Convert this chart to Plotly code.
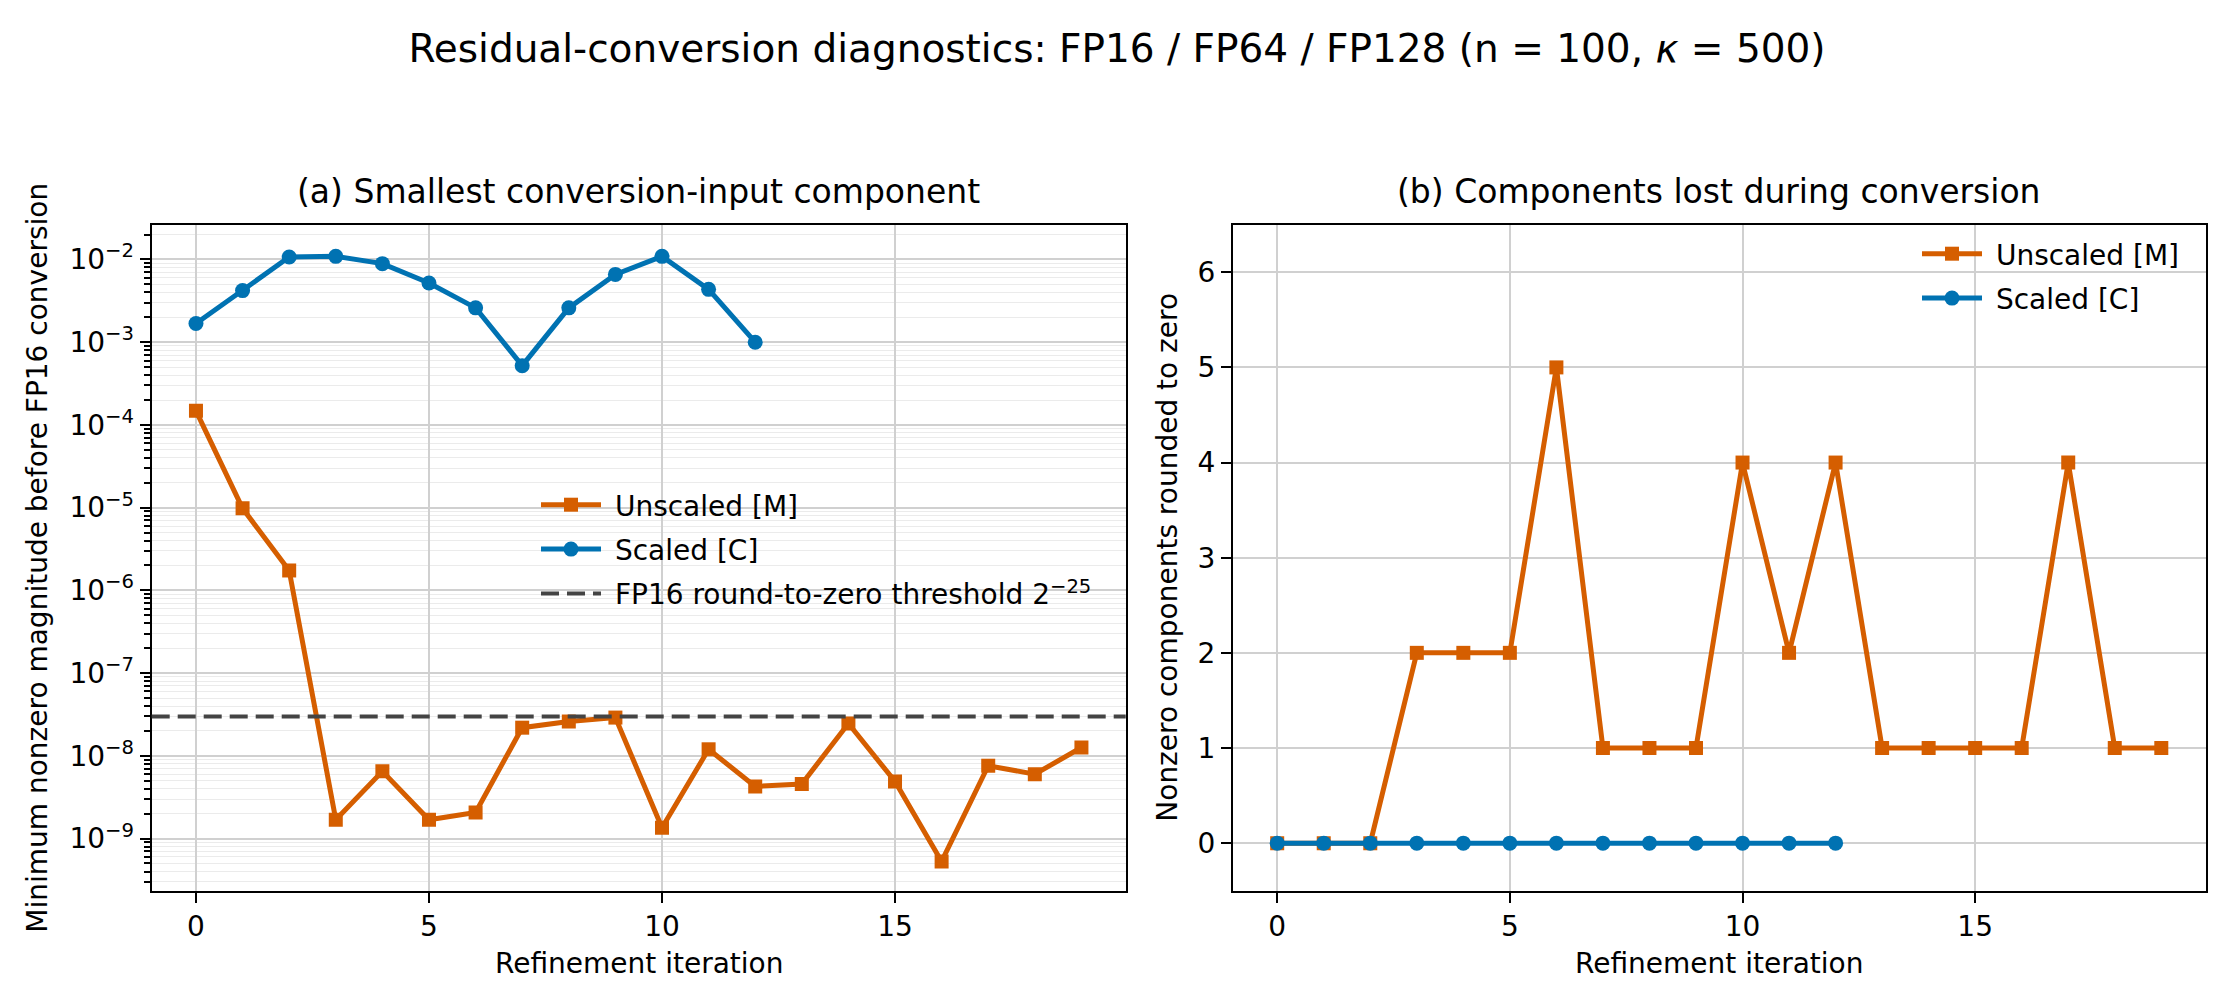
import plotly.graph_objects as go

# refinement iterations
iterations = list(range(20))
scaled_iterations = list(range(13))

# (a) smallest nonzero magnitude before FP16 conversion
unscaled_min = [1.48e-4, 9.8e-6, 1.74e-6, 1.69e-9, 6.5e-9, 1.69e-9, 2.07e-9, 2.19e-8, 2.6e-8, 2.9e-8,
                1.35e-9, 1.2e-8, 4.27e-9, 4.57e-9, 2.46e-8, 4.9e-9, 5.3e-10, 7.6e-9, 6.0e-9, 1.26e-8]
scaled_min = [1.68e-3, 4.2e-3, 1.07e-2, 1.09e-2, 8.9e-3, 5.2e-3, 2.6e-3, 5.2e-4, 2.6e-3, 6.6e-3,
              1.09e-2, 4.35e-3, 1.0e-3]
fp16_threshold = 2.0 ** -25

# (b) components rounded to zero
unscaled_lost = [0, 0, 0, 2, 2, 2, 5, 1, 1, 1, 4, 2, 4, 1, 1, 1, 1, 4, 1, 1]
scaled_lost = [0, 0, 0, 0, 0, 0, 0, 0, 0, 0, 0, 0, 0]

x_ticks = [0, 5, 10, 15]
log_ticks = [10.0 ** k for k in range(-9, -1)]
log_ticktext = ["10<sup>\u2212%d</sup>" % -k for k in range(-9, -1)]
log_minor = [m * 10.0 ** k for k in range(-10, -1) for m in range(2, 10)]

ORANGE = "#D55E00"
BLUE = "#0072B2"
FONT = "DejaVu Sans"
W, H = 2218, 990
SP = "\u00a0"  # a little extra gap between legend handle and label

fig = go.Figure()

fig.add_trace(go.Scatter(x=iterations, y=unscaled_min, name=SP + "Unscaled [M]", mode="lines+markers",
                         line=dict(color=ORANGE, width=5), marker=dict(symbol="square", size=14),
                         xaxis="x", yaxis="y", legend="legend", legendgroup="a1"))
fig.add_trace(go.Scatter(x=scaled_iterations, y=scaled_min, name=SP + "Scaled [C]", mode="lines+markers",
                         line=dict(color=BLUE, width=5), marker=dict(symbol="circle", size=15),
                         xaxis="x", yaxis="y", legend="legend", legendgroup="a2"))
fig.add_shape(type="line", xref="x domain", yref="y", x0=0, x1=1, y0=fp16_threshold, y1=fp16_threshold,
              line=dict(color="#444444", width=4, dash="18px,8px"), showlegend=True,
              name=SP + "FP16 round-to-zero threshold 2<sup>\u221225</sup>", legend="legend",
              legendgroup="a3")

fig.add_trace(go.Scatter(x=iterations, y=unscaled_lost, name=SP + "Unscaled [M]", mode="lines+markers",
                         line=dict(color=ORANGE, width=5), marker=dict(symbol="square", size=14),
                         xaxis="x2", yaxis="y2", legend="legend2", legendgroup="b1"))
fig.add_trace(go.Scatter(x=scaled_iterations, y=scaled_lost, name=SP + "Scaled [C]", mode="lines+markers",
                         line=dict(color=BLUE, width=5), marker=dict(symbol="circle", size=15),
                         xaxis="x2", yaxis="y2", legend="legend2", legendgroup="b2"))

dom_y = [1 - 882.7 / H, 1 - 216.7 / H]
dom_x1 = [143.7 / W, 1117.7 / W]
dom_x2 = [1225.0 / W, 2197.5 / W]

axis_common = dict(showline=True, linecolor="black", linewidth=2.2, mirror=True,
                   ticks="outside", ticklen=10, tickwidth=2.2, tickcolor="black",
                   showgrid=True, gridcolor="#d0d0d0", gridwidth=1.8, zeroline=False,
                   tickfont=dict(size=28, color="black", family=FONT))

fig.update_layout(
    width=W, height=H, template="none",
    paper_bgcolor="white", plot_bgcolor="white",
    font=dict(family=FONT, size=28, color="black"),
    margin=dict(l=0, r=0, t=0, b=0),
    title=dict(text="Residual-conversion diagnostics: FP16 / FP64 / FP128 (n = 100, <i>\u03ba</i> = 500)",
               x=0.5, xanchor="center", y=1 - 40 / H, yanchor="middle",
               font=dict(size=39, family=FONT, color="black")),
    xaxis=dict(domain=dom_x1, anchor="y", range=[-0.95, 19.95], tickvals=x_ticks, **axis_common),
    yaxis=dict(domain=dom_y, anchor="x", type="log", range=[-9.63, -1.58],
               tickvals=log_ticks, ticktext=log_ticktext,
               minor=dict(tickvals=log_minor, ticks="outside", ticklen=6, tickwidth=1.6,
                          tickcolor="black", showgrid=True, gridcolor="#ebebeb", gridwidth=1.1),
               **axis_common),
    xaxis2=dict(domain=dom_x2, anchor="y2", range=[-0.95, 19.95], tickvals=x_ticks, **axis_common),
    yaxis2=dict(domain=dom_y, anchor="x2", range=[-0.5, 6.5], tickvals=[0, 1, 2, 3, 4, 5, 6],
                **axis_common),
    legend=dict(x=528 / W, y=1 - 472 / H, xanchor="left", yanchor="top", bgcolor="rgba(0,0,0,0)",
                font=dict(size=28, family=FONT, color="black"), itemwidth=60,
                traceorder="grouped", tracegroupgap=5),
    legend2=dict(x=2176 / W, y=1 - 221 / H, xanchor="right", yanchor="top", bgcolor="rgba(0,0,0,0)",
                 font=dict(size=28, family=FONT, color="black"), itemwidth=60,
                 traceorder="grouped", tracegroupgap=5),
)

annotations = [
    dict(text="(a) Smallest conversion-input component", x=sum(dom_x1) / 2, y=1 - 184 / H,
         font=dict(size=33)),
    dict(text="(b) Components lost during conversion", x=sum(dom_x2) / 2, y=1 - 184 / H,
         font=dict(size=33)),
    dict(text="Refinement iteration", x=sum(dom_x1) / 2, y=1 - 955 / H, font=dict(size=28)),
    dict(text="Refinement iteration", x=sum(dom_x2) / 2, y=1 - 955 / H, font=dict(size=28)),
    dict(text="Minimum nonzero magnitude before FP16 conversion", x=30 / W, y=sum(dom_y) / 2,
         textangle=-90, font=dict(size=28)),
    dict(text="Nonzero components rounded to zero", x=1160 / W, y=sum(dom_y) / 2,
         textangle=-90, font=dict(size=28)),
]
for a in annotations:
    fig.add_annotation(xref="paper", yref="paper", showarrow=False, xanchor="center",
                       yanchor="middle", **a)

fig.write_html("out.html")
